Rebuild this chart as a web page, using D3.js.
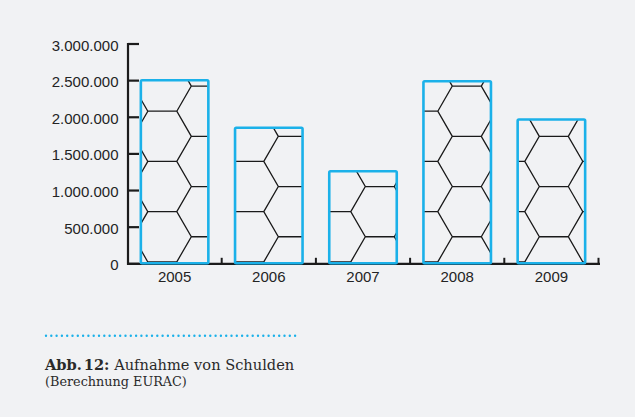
<!DOCTYPE html>
<html>
<head>
<meta charset="utf-8">
<script src="https://cdn.jsdelivr.net/npm/d3@7"></script>
<style>
  html, body { margin: 0; padding: 0; background: #f1f2f4; }
  svg { display: block; }
  .tick-label { font-family: "Liberation Sans", Arial, sans-serif; font-size: 15px; fill: #242424; }
  .caption { font-family: "DejaVu Serif", serif; fill: #2a2a2a; }
</style>
</head>
<body>
<div id="chart"></div>
<script>
// data
var years = ["2005", "2006", "2007", "2008", "2009"];
var debt = [2505000, 1856000, 1264000, 2491000, 1969000];
var yTickValues = [0, 500000, 1000000, 1500000, 2000000, 2500000, 3000000];
var captionAbb = "Abb.";
var captionNum = "12:";
var captionText = " Aufnahme von Schulden";
var captionSource = "(Berechnung EURAC)";

var width = 635, height = 417;
var axisColor = "#1c1c1c", barColor = "#1bb1e9";

var svg = d3.select("#chart").append("svg")
    .attr("width", width)
    .attr("height", height);

// scales
var x = d3.scaleBand()
    .domain(years)
    .range([127.5, 598.5]);
var y = d3.scaleLinear()
    .domain([0, 3000000])
    .range([263.8, 44]);

var fmt = d3.formatLocale({decimal: ",", thousands: ".", grouping: [3], currency: ["", ""]}).format(",");

var barW = 67.5;

// y axis
svg.append("line")
    .attr("x1", 128).attr("x2", 128)
    .attr("y1", y(3000000) - 1).attr("y2", y(0) + 1)
    .attr("stroke", axisColor).attr("stroke-width", 2.2);
svg.selectAll("line.ytick")
    .data(yTickValues)
    .enter().append("line")
    .attr("class", "ytick")
    .attr("x1", 128).attr("x2", 139)
    .attr("y1", function(d) { return y(d); })
    .attr("y2", function(d) { return y(d); })
    .attr("stroke", axisColor).attr("stroke-width", 2.2);
svg.selectAll("text.ylab")
    .data(yTickValues)
    .enter().append("text")
    .attr("class", "tick-label ylab")
    .attr("x", 118.5)
    .attr("y", function(d) { return y(d) + 6.5; })
    .attr("text-anchor", "end")
    .text(function(d) { return fmt(d); });

// x axis
svg.append("line")
    .attr("x1", 127).attr("x2", 600)
    .attr("y1", y(0)).attr("y2", y(0))
    .attr("stroke", axisColor).attr("stroke-width", 2.2);
svg.selectAll("line.xtick")
    .data(years)
    .enter().append("line")
    .attr("class", "xtick")
    .attr("x1", function(d) { return x(d) + x.step(); })
    .attr("x2", function(d) { return x(d) + x.step(); })
    .attr("y1", y(0)).attr("y2", y(0) - 6)
    .attr("stroke", axisColor).attr("stroke-width", 2);
svg.selectAll("text.xlab")
    .data(years)
    .enter().append("text")
    .attr("class", "tick-label xlab")
    .attr("x", function(d) { return x(d) + x.bandwidth() / 2; })
    .attr("y", 281.7)
    .attr("text-anchor", "middle")
    .text(function(d) { return d; });

// honeycomb mesh (global grid, clipped per bar)
var s = 29, h = s * Math.sqrt(3), hx0 = 162.3, hy0 = 111.2;
var mesh = "";
for (var k = -4; k <= 12; k++) {
    var xc = hx0 + k * 1.5 * s;
    var yoff = (Math.abs(k) % 2 === 1) ? h / 2 : 0;
    for (var j = -3; j <= 5; j++) {
        var yt = hy0 + yoff + j * h;
        mesh += "M" + (xc - s / 2) + "," + yt + "L" + (xc + s / 2) + "," + yt +
                "L" + (xc + s) + "," + (yt + h / 2) + "L" + (xc + s / 2) + "," + (yt + h);
    }
}

var defs = svg.append("defs");
defs.selectAll("clipPath")
    .data(years)
    .enter().append("clipPath")
    .attr("id", function(d, i) { return "clip" + i; })
    .append("rect")
    .attr("x", function(d) { return x(d) + x.bandwidth() / 2 - barW / 2; })
    .attr("y", function(d, i) { return y(debt[i]); })
    .attr("width", barW)
    .attr("height", function(d, i) { return y(0) - y(debt[i]); });

var bars = svg.selectAll("g.bar")
    .data(years)
    .enter().append("g")
    .attr("class", "bar");

bars.append("path")
    .attr("clip-path", function(d, i) { return "url(#clip" + i + ")"; })
    .attr("d", mesh)
    .attr("fill", "none")
    .attr("stroke", "#1a1a1a")
    .attr("stroke-width", 1.3);

bars.append("rect")
    .attr("x", function(d) { return x(d) + x.bandwidth() / 2 - barW / 2; })
    .attr("y", function(d, i) { return y(debt[i]); })
    .attr("width", barW)
    .attr("height", function(d, i) { return y(0) - y(debt[i]) - 0.5; })
    .attr("rx", 1.2)
    .attr("fill", "none")
    .attr("stroke", barColor)
    .attr("stroke-width", 2.6);

// caption
svg.append("line")
    .attr("x1", 46).attr("x2", 297)
    .attr("y1", 335.7).attr("y2", 335.7)
    .attr("stroke", barColor)
    .attr("stroke-width", 2.4)
    .attr("stroke-linecap", "round")
    .attr("stroke-dasharray", "0 5.3");

var cap = svg.append("text")
    .attr("class", "caption")
    .attr("x", 45).attr("y", 370)
    .attr("font-size", 14.6);
cap.append("tspan").attr("font-weight", "bold").text(captionAbb);
cap.append("tspan").attr("font-weight", "bold").attr("dx", 2).text(captionNum);
cap.append("tspan").text(captionText);

svg.append("text")
    .attr("class", "caption")
    .attr("x", 45).attr("y", 386)
    .attr("font-size", 12.8)
    .text(captionSource);
</script>
</body>
</html>
